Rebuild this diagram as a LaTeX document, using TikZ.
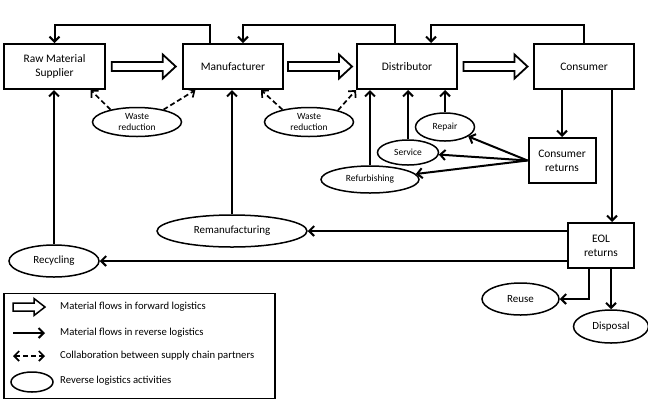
\documentclass[tikz,border=0pt]{standalone}
\usepackage{fontspec}
\setmainfont{Carlito}
\usetikzlibrary{arrows.meta,calc,shapes.geometric}
\begin{document}
\begin{tikzpicture}[x=1bp,y=-1bp,
  box/.style={draw, line width=2bp, inner sep=2pt, align=center,
    font=\fontsize{11.5}{14}\selectfont},
  act/.style={draw, ellipse, line width=1.5bp, inner sep=0pt, align=center,
    font=\fontsize{9.5}{11.5}\selectfont},
  bigact/.style={act, font=\fontsize{11}{13}\selectfont},
  rev/.style={line width=2bp, -{Straight Barb[length=5bp,width=10bp]}},
  collab/.style={rev, line width=1.7bp, dash pattern=on 5bp off 3bp},
  fwdarrow/.style={draw, line width=1.8bp, fill=white},
  fwd/.pic={\draw[fwdarrow] (0,-4.5) -- (51,-4.5) -- (51,-12) -- (64,0)
      -- (51,12) -- (51,4.5) -- (0,4.5) -- cycle;},
  fwdsmall/.pic={\draw[fwdarrow, line width=1.5bp] (0,-4) -- (21,-4) -- (21,-8.5) -- (32,0)
      -- (21,8.5) -- (21,4) -- (0,4) -- cycle;},
  legtext/.style={anchor=west, inner sep=0pt, font=\fontsize{10.7}{12.5}\selectfont}
]
\useasboundingbox (0,0) rectangle (648,400);

% supply chain partners
\node[box, minimum width=100bp, minimum height=45bp] (rms)  at (54.5,66.5) {Raw Material\\Supplier};
\node[box, minimum width=100bp, minimum height=45bp] (man)  at (233,66.5)  {Manufacturer};
\node[box, minimum width=100bp, minimum height=45bp] (dist) at (407,66.5)  {Distributor};
\node[box, minimum width=100bp, minimum height=45bp] (cons) at (584,66.5)  {Consumer};
\node[box, minimum width=67bp, minimum height=45bp]  (cr)   at (562,160.5) {Consumer\\returns};
\node[box, minimum width=66bp, minimum height=45bp]  (eol)  at (601,245.5) {EOL\\returns};

% reverse logistics activities
\node[act, minimum width=89bp, minimum height=29bp] (w1) at (137,122) {Waste\\reduction};
\node[act, minimum width=89bp, minimum height=29bp] (w2) at (309,122) {Waste\\reduction};
\node[act, minimum width=59bp, minimum height=28bp] (rep) at (445,127) {Repair};
\node[act, minimum width=61bp, minimum height=25bp] (ser) at (408,152.5) {Service};
\node[act, minimum width=98bp, minimum height=27bp] (ref) at (370,179.5) {Refurbishing};
\node[bigact, minimum width=150bp, minimum height=32bp] (rem) at (232,231) {Remanufacturing};
\node[bigact, minimum width=90bp, minimum height=32bp]  (rec) at (54,261) {Recycling};
\node[bigact, minimum width=77bp, minimum height=32bp]  (reuse) at (520.5,299) {Reuse};
\node[bigact, minimum width=75bp, minimum height=33bp]  (disp) at (611,326.5) {Disposal};

% forward material flows
\pic at ($(rms.east)!0.5!(man.west)+(-32,0)$) {fwd};
\pic at ($(man.east)!0.5!(dist.west)+(-32,0)$) {fwd};
\pic at ($(dist.east)!0.5!(cons.west)+(-32,0)$) {fwd};

% return flows over the top
\draw[rev] ($(man.north)+(-23,0)$) -- ++(0,-18) -| (rms.north);
\draw[rev] ($(dist.north)+(-12,0)$) -- ++(0,-18) -| ($(man.north)+(10,0)$);
\draw[rev] (cons.north) -- ++(0,-18) -| ($(dist.north)+(24,0)$);

% collaboration
\draw[collab] (w1.155) -- (rms.-33);
\draw[collab] (w1.25) -- (man.-148);
\draw[collab] (w2.155) -- (man.-40);
\draw[collab] (w2.22) -- (dist.south west);

% activities feeding back into the chain
\draw[rev] (rec.north) -- (rec.north |- rms.south);
\draw[rev] (rem.north) -- (rem.north |- man.south);
\draw[rev] (ref.north) -- (ref.north |- dist.south);
\draw[rev] (ser.north) -- (ser.north |- dist.south);
\draw[rev] (rep.north) -- (rep.north |- dist.south);

% consumer returns
\draw[rev] (cr.north |- cons.south) -- (cr.north);
\draw[rev] (cr.west) -- (rep);
\draw[rev] (cr.west) -- (ser);
\draw[rev] (cr.west) -- (ref);

% end-of-life returns
\coordinate (c1) at ($(cons.south)+(28,0)$);
\draw[rev] (c1) -- (c1 |- eol.north);
\draw[rev] (eol.west |- rem.east) -- (rem.east);
\draw[rev] (eol.west |- rec.east) -- (rec.east);
\coordinate (c2) at ($(eol.south)+(-12,0)$);
\draw[rev] (c2) |- (reuse.east);
\draw[rev] (disp.north |- eol.south) -- (disp.north);

% legend
\node[draw, line width=1.5bp, minimum width=271bp, minimum height=105bp, inner sep=0pt] (leg) at (139.5,346) {};
\pic at (13,307) {fwdsmall};
\node[legtext] (l1) at (60,307) {Material flows in forward logistics};
\coordinate (la) at (13,333);
\coordinate (lb) at (45,333);
\draw[rev] (la) -- (lb);
\node[legtext] (l2) at (60,333) {Material flows in reverse logistics};
\coordinate (lc) at (13,356);
\coordinate (ld) at (45,356);
\draw[collab, {Straight Barb[length=5bp,width=10bp]}-{Straight Barb[length=5bp,width=10bp]}] (lc) -- (ld);
\node[legtext] (l3) at (60,356) {Collaboration between supply chain partners};
\node[draw, ellipse, line width=1.5bp, minimum width=42bp, minimum height=20bp, inner sep=0pt] (le) at (32,382) {};
\node[legtext] (l4) at (60,381) {Reverse logistics activities};
\end{tikzpicture}
\end{document}
